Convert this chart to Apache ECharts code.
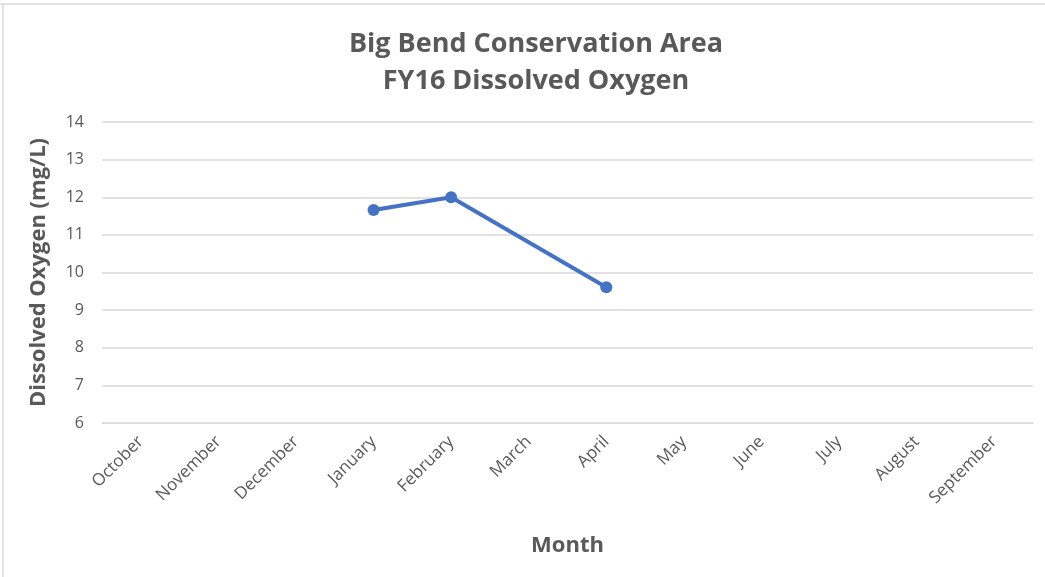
<!DOCTYPE html>
<html><head><meta charset="utf-8">
<script src="https://cdn.jsdelivr.net/npm/echarts@6/dist/echarts.min.js"></script>
<style>
html,body{margin:0;padding:0;background:#fff;}
#c{width:1045px;height:577px;}
</style></head>
<body><div id="c"></div>
<script>
const titleLines = ['Big Bend Conservation Area', 'FY16 Dissolved Oxygen'];
const months = ['October','November','December','January','February','March','April','May','June','July','August','September'];
const dissolvedOxygen = [null, null, null, 11.66, 12.0, null, 9.61, null, null, null, null, null];
const yTicks = { min: 6, max: 14, interval: 1 };
const xName = 'Month';
const yName = 'Dissolved Oxygen (mg/L)';

const chart = echarts.init(document.getElementById('c'), null, {renderer:'canvas'});
const txt = '#595959';
chart.setOption({
  backgroundColor: '#fff',
  animation: false,
  graphic: [
    {type:'line', shape:{x1:0,y1:4,x2:1045,y2:4}, style:{stroke:'#d9d9d9',lineWidth:1.5}},
    {type:'line', shape:{x1:3,y1:4,x2:3,y2:577}, style:{stroke:'#d9d9d9',lineWidth:1.5}}
  ],
  title: {
    text: titleLines.join('\n'),
    left: 531, top: 21, textAlign: 'center',
    textStyle: {fontFamily:'Open Sans', fontWeight:'bold', fontSize:27, color:txt, lineHeight:37}
  },
  grid: {left:102, right:12, top:122, bottom:154},
  xAxis: {
    type:'category', data: months, boundaryGap: true,
    name: xName, nameLocation:'middle', nameGap: 112,
    nameTextStyle: {fontFamily:'Open Sans', fontWeight:'bold', fontSize:22, color:txt},
    axisLine:{show:true, lineStyle:{color:'#d9d9d9'}},
    axisTick:{show:false},
    axisLabel:{rotate:45, interval:0, color:txt, fontFamily:'Open Sans', fontSize:17, margin:16}
  },
  yAxis: {
    type:'value', min:yTicks.min, max:yTicks.max, interval:yTicks.interval,
    name: yName, nameLocation:'middle', nameGap: 52,
    nameTextStyle: {fontFamily:'Open Sans', fontWeight:'bold', fontSize:22, color:txt},
    axisLine:{show:false}, axisTick:{show:false},
    axisLabel:{color:txt, fontFamily:'Open Sans', fontSize:16, margin:18},
    splitLine:{lineStyle:{color:'#d9d9d9', width:1.5}}
  },
  series: [{
    type:'line', data: dissolvedOxygen, connectNulls: true,
    symbol:'circle', symbolSize:12,
    lineStyle:{color:'#4472C4', width:4},
    itemStyle:{color:'#4472C4'}
  }]
});
</script></body></html>
